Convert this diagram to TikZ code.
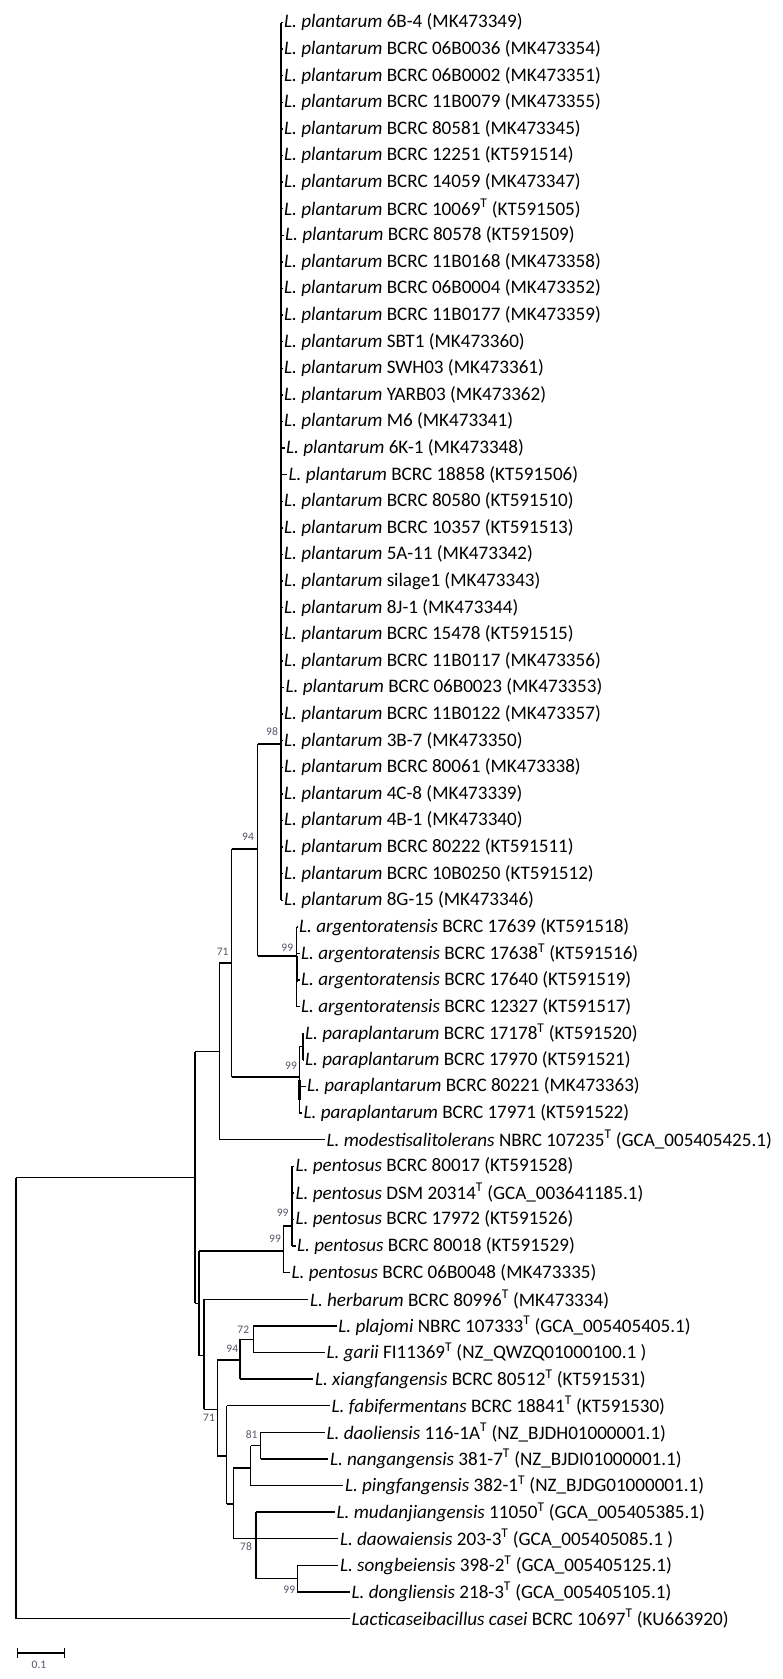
\documentclass[tikz,border=0pt]{standalone}
\usepackage{fontspec}
\setmainfont{Carlito}
\definecolor{bscol}{RGB}{85,85,105}
\newcommand{\sps}{\textsuperscript{T}}
\newcommand{\Lp}{\textit{L. plantarum}}
\begin{document}
\begin{tikzpicture}[x=1pt,y=-1pt,
  br/.style={line width=1.3pt},
  thk/.style={line width=2.4pt},
  leaf/.style={anchor=west,inner xsep=1.5pt,inner ysep=0pt,font=\fontsize{19.1}{22}\selectfont},
  bs/.style={font=\fontsize{11.5}{13}\selectfont,text=bscol,inner sep=0pt}]
\useasboundingbox (0,0) rectangle (783,1679);
% ---------- leaves ----------
\node[leaf] (l1) at (282.5,22.5) {\Lp{} 6B-4 (MK473349)};
\node[leaf] (l2) at (282.5,49.1) {\Lp{} BCRC 06B0036 (MK473354)};
\node[leaf] (l3) at (282.5,75.7) {\Lp{} BCRC 06B0002 (MK473351)};
\node[leaf] (l4) at (282.5,102.3) {\Lp{} BCRC 11B0079 (MK473355)};
\node[leaf] (l5) at (282.5,128.9) {\Lp{} BCRC 80581 (MK473345)};
\node[leaf] (l6) at (282.5,155.5) {\Lp{} BCRC 12251 (KT591514)};
\node[leaf] (l7) at (282.5,182.1) {\Lp{} BCRC 14059 (MK473347)};
\node[leaf] (l8) at (282.5,208.7) {\Lp{} BCRC 10069\sps{} (KT591505)};
\node[leaf] (l9) at (283.5,235.3) {\Lp{} BCRC 80578 (KT591509)};
\node[leaf] (l10) at (282.5,261.9) {\Lp{} BCRC 11B0168 (MK473358)};
\node[leaf] (l11) at (282.5,288.5) {\Lp{} BCRC 06B0004 (MK473352)};
\node[leaf] (l12) at (282.5,315.1) {\Lp{} BCRC 11B0177 (MK473359)};
\node[leaf] (l13) at (282.5,341.7) {\Lp{} SBT1 (MK473360)};
\node[leaf] (l14) at (282.5,368.3) {\Lp{} SWH03 (MK473361)};
\node[leaf] (l15) at (282.5,394.9) {\Lp{} YARB03 (MK473362)};
\node[leaf] (l16) at (282.5,421.5) {\Lp{} M6 (MK473341)};
\node[leaf] (l17) at (284.5,448.1) {\Lp{} 6K-1 (MK473348)};
\node[leaf] (l18) at (287,474.7) {\Lp{} BCRC 18858 (KT591506)};
\node[leaf] (l19) at (282.5,501.3) {\Lp{} BCRC 80580 (KT591510)};
\node[leaf] (l20) at (282.5,527.9) {\Lp{} BCRC 10357 (KT591513)};
\node[leaf] (l21) at (282.5,554.5) {\Lp{} 5A-11 (MK473342)};
\node[leaf] (l22) at (282.5,581.1) {\Lp{} silage1 (MK473343)};
\node[leaf] (l23) at (282.5,607.7) {\Lp{} 8J-1 (MK473344)};
\node[leaf] (l24) at (282.5,634.3) {\Lp{} BCRC 15478 (KT591515)};
\node[leaf] (l25) at (282.5,660.9) {\Lp{} BCRC 11B0117 (MK473356)};
\node[leaf] (l26) at (284,687.5) {\Lp{} BCRC 06B0023 (MK473353)};
\node[leaf] (l27) at (282.5,714.1) {\Lp{} BCRC 11B0122 (MK473357)};
\node[leaf] (l28) at (282.5,740.7) {\Lp{} 3B-7 (MK473350)};
\node[leaf] (l29) at (282.5,767.3) {\Lp{} BCRC 80061 (MK473338)};
\node[leaf] (l30) at (282.5,793.9) {\Lp{} 4C-8 (MK473339)};
\node[leaf] (l31) at (282.5,820.5) {\Lp{} 4B-1 (MK473340)};
\node[leaf] (l32) at (282.5,847.1) {\Lp{} BCRC 80222 (KT591511)};
\node[leaf] (l33) at (282.5,873.7) {\Lp{} BCRC 10B0250 (KT591512)};
\node[leaf] (l34) at (282.5,900.3) {\Lp{} 8G-15 (MK473346)};
\node[leaf] (l35) at (297.5,926.9) {\textit{L. argentoratensis} BCRC 17639 (KT591518)};
\node[leaf] (l36) at (299.5,953.5) {\textit{L. argentoratensis} BCRC 17638\sps{} (KT591516)};
\node[leaf] (l37) at (299.5,980.1) {\textit{L. argentoratensis} BCRC 17640 (KT591519)};
\node[leaf] (l38) at (299.5,1006.7) {\textit{L. argentoratensis} BCRC 12327 (KT591517)};
\node[leaf] (l39) at (303.5,1033.3) {\textit{L. paraplantarum} BCRC 17178\sps{} (KT591520)};
\node[leaf] (l40) at (303.5,1059.9) {\textit{L. paraplantarum} BCRC 17970 (KT591521)};
\node[leaf] (l41) at (305.5,1086.5) {\textit{L. paraplantarum} BCRC 80221 (MK473363)};
\node[leaf] (l42) at (302,1113.1) {\textit{L. paraplantarum} BCRC 17971 (KT591522)};
\node[leaf] (l43) at (325,1139.7) {\textit{L. modestisalitolerans} NBRC 107235\sps{} (GCA\_005405425.1)};
\node[leaf] (l44) at (294,1166.3) {\textit{L. pentosus} BCRC 80017 (KT591528)};
\node[leaf] (l45) at (294,1192.9) {\textit{L. pentosus} DSM 20314\sps{} (GCA\_003641185.1)};
\node[leaf] (l46) at (294,1219.5) {\textit{L. pentosus} BCRC 17972 (KT591526)};
\node[leaf] (l47) at (295.5,1246.1) {\textit{L. pentosus} BCRC 80018 (KT591529)};
\node[leaf] (l48) at (290,1272.7) {\textit{L. pentosus} BCRC 06B0048 (MK473335)};
\node[leaf] (l49) at (308.3,1299.3) {\textit{L. herbarum} BCRC 80996\sps{} (MK473334)};
\node[leaf] (l50) at (336.7,1325.9) {\textit{L. plajomi} NBRC 107333\sps{} (GCA\_005405405.1)};
\node[leaf] (l51) at (325,1352.5) {\textit{L. garii} FI11369\sps{} (NZ\_QWZQ01000100.1 )};
\node[leaf] (l52) at (313.3,1379.1) {\textit{L. xiangfangensis} BCRC 80512\sps{} (KT591531)};
\node[leaf] (l53) at (330,1405.7) {\textit{L. fabifermentans} BCRC 18841\sps{} (KT591530)};
\node[leaf] (l54) at (325,1432.3) {\textit{L. daoliensis} 116-1A\sps{} (NZ\_BJDH01000001.1)};
\node[leaf] (l55) at (328.3,1458.9) {\textit{L. nangangensis} 381-7\sps{} (NZ\_BJDI01000001.1)};
\node[leaf] (l56) at (343.3,1485.5) {\textit{L. pingfangensis} 382-1\sps{} (NZ\_BJDG01000001.1)};
\node[leaf] (l57) at (335,1512.1) {\textit{L. mudanjiangensis} 11050\sps{} (GCA\_005405385.1)};
\node[leaf] (l58) at (338.3,1538.7) {\textit{L. daowaiensis} 203-3\sps{} (GCA\_005405085.1 )};
\node[leaf] (l59) at (338.3,1565.3) {\textit{L. songbeiensis} 398-2\sps{} (GCA\_005405125.1)};
\node[leaf] (l60) at (350,1591.9) {\textit{L. dongliensis} 218-3\sps{} (GCA\_005405105.1)};
\node[leaf] (l61) at (350,1618.5) {\textit{Lacticaseibacillus casei} BCRC 10697\sps{} (KU663920)};
% ---------- internal nodes ----------
\coordinate (P) at (281,744);
\coordinate (A94) at (257.7,849);
\coordinate (Arg) at (296.7,956);
\coordinate (Pa) at (299.3,1077);
\coordinate (Pa2) at (303,1046.6);
\coordinate (N71a) at (231.7,963);
\coordinate (Nm) at (219.3,1051.7);
\coordinate (Nu) at (195,1177.7);
\coordinate (R) at (16,1400);
\coordinate (Nb) at (199,1303.4);
\coordinate (Pe) at (283.3,1251);
\coordinate (Pe2) at (292,1226);
\coordinate (Nh) at (204,1355.7);
\coordinate (N71b) at (217.3,1409.3);
\coordinate (N94) at (240,1360);
\coordinate (N72) at (253.3,1339.2);
\coordinate (Nf) at (226.7,1456);
\coordinate (Ng) at (233.3,1504);
\coordinate (Nd) at (250.7,1468);
\coordinate (N81) at (260.7,1445.6);
\coordinate (N78) at (256,1538.7);
\coordinate (N99) at (297.3,1578.6);
% ---------- branches ----------
% plantarum
\draw[br] (l1.west -| P) -- (l34.west -| P);
\foreach \i in {1,...,34} \draw[br] (l\i.west -| P) -- (l\i.west);
\draw[thk] (281,585) -- (281,876);
% node 94
\draw[br] (P -| A94) -- (Arg -| A94);
\draw[br] (P -| A94) -- (P);
\draw[br] (Arg -| A94) -- (Arg);
% argentoratensis
\draw[br] (l35.west -| Arg) -- (l38.west -| Arg);
\foreach \i in {35,...,38} \draw[br] (l\i.west -| Arg) -- (l\i.west);
\draw[thk] (296.7,956) -- (296.7,982);
% paraplantarum
\draw[br] (Pa2 -| Pa) -- (l42.west -| Pa);
\draw[br] (Pa2 -| Pa) -- (Pa2);
\draw[br] (l41.west -| Pa) -- (l41.west);
\draw[br] (l42.west -| Pa) -- (l42.west);
\draw[thk] (299.3,1080) -- (299.3,1100);
\draw[br] (l39.west -| Pa2) -- (l40.west -| Pa2);
\draw[br] (l39.west -| Pa2) -- (l39.west);
\draw[br] (l40.west -| Pa2) -- (l40.west);
% node 71 (upper)
\draw[br] (A94 -| N71a) -- (Pa -| N71a);
\draw[br] (A94 -| N71a) -- (A94);
\draw[br] (Pa -| N71a) -- (Pa);
% modestisalitolerans node
\draw[br] (N71a -| Nm) -- (l43.west -| Nm);
\draw[br] (N71a -| Nm) -- (N71a);
\draw[br] (l43.west -| Nm) -- (l43.west);
% upper root child
\draw[br] (Nm -| Nu) -- (Nb -| Nu);
\draw[br] (Nm -| Nu) -- (Nm);
\draw[br] (Nb -| Nu) -- (Nb);
% root
\draw[br] (Nu -| R) -- (l61.west -| R);
\draw[br] (Nu -| R) -- (Nu);
\draw[br] (l61.west -| R) -- (l61.west);
% node b
\draw[br] (Pe -| Nb) -- (Nh -| Nb);
\draw[br] (Pe -| Nb) -- (Pe);
\draw[br] (Nh -| Nb) -- (Nh);
% pentosus
\draw[br] (Pe2 -| Pe) -- (l48.west -| Pe);
\draw[br] (Pe2 -| Pe) -- (Pe2);
\draw[br] (l48.west -| Pe) -- (l48.west);
\draw[br] (l44.west -| Pe2) -- (l47.west -| Pe2);
\foreach \i in {44,...,47} \draw[br] (l\i.west -| Pe2) -- (l\i.west);
\draw[thk] (292,1198) -- (292,1222);
% herbarum node
\draw[br] (l49.west -| Nh) -- (N71b -| Nh);
\draw[br] (l49.west -| Nh) -- (l49.west);
\draw[br] (N71b -| Nh) -- (N71b);
% node 71 (lower)
\draw[br] (N94 -| N71b) -- (Nf -| N71b);
\draw[br] (N94 -| N71b) -- (N94);
\draw[br] (Nf -| N71b) -- (Nf);
% node 94 (lower)
\draw[br] (N72 -| N94) -- (l52.west -| N94);
\draw[br] (N72 -| N94) -- (N72);
\draw[br] (l52.west -| N94) -- (l52.west);
% node 72
\draw[br] (l50.west -| N72) -- (l51.west -| N72);
\draw[br] (l50.west -| N72) -- (l50.west);
\draw[br] (l51.west -| N72) -- (l51.west);
% fabifermentans node
\draw[br] (l53.west -| Nf) -- (Ng -| Nf);
\draw[br] (l53.west -| Nf) -- (l53.west);
\draw[br] (Ng -| Nf) -- (Ng);
% node g
\draw[br] (Nd -| Ng) -- (N78 -| Ng);
\draw[br] (Nd -| Ng) -- (Nd);
\draw[br] (N78 -| Ng) -- (N78);
% node d
\draw[br] (N81 -| Nd) -- (l56.west -| Nd);
\draw[br] (N81 -| Nd) -- (N81);
\draw[br] (l56.west -| Nd) -- (l56.west);
% node 81
\draw[br] (l54.west -| N81) -- (l55.west -| N81);
\draw[br] (l54.west -| N81) -- (l54.west);
\draw[br] (l55.west -| N81) -- (l55.west);
% node 78
\draw[br] (l57.west -| N78) -- (N99 -| N78);
\draw[br] (l57.west -| N78) -- (l57.west);
\draw[br] (l58.west -| N78) -- (l58.west);
\draw[br] (N99 -| N78) -- (N99);
% node 99 (songbei/dongli)
\draw[br] (l59.west -| N99) -- (l60.west -| N99);
\draw[br] (l59.west -| N99) -- (l59.west);
\draw[br] (l60.west -| N99) -- (l60.west);
% ---------- bootstrap values ----------
\node[bs] (b98) at (272,732) {98};
\node[bs] (b94a) at (248,837) {94};
\node[bs] (b99a) at (287.3,947.3) {99};
\node[bs] (b71a) at (222.7,951.7) {71};
\node[bs] (b99b) at (291,1065.7) {99};
\node[bs] (b99c) at (282.7,1212.7) {99};
\node[bs] (b99d) at (275,1238.3) {99};
\node[bs] (b72) at (243.3,1329.3) {72};
\node[bs] (b94b) at (232.3,1348.3) {94};
\node[bs] (b71b) at (209,1417.7) {71};
\node[bs] (b81) at (251.7,1434.3) {81};
\node[bs] (b78) at (246,1546.7) {78};
\node[bs] (b99e) at (289.3,1590) {99};
% ---------- scale bar ----------
\coordinate (s1) at (17.7,1653);
\coordinate (s2) at (64.3,1653);
\draw[br] (s1) -- (s2);
\draw[br] ([yshift=-5pt]s1) -- ([yshift=5pt]s1);
\draw[br] ([yshift=-5pt]s2) -- ([yshift=5pt]s2);
\node[bs] (sc) at (39,1665) {0.1};
\end{tikzpicture}
\end{document}
